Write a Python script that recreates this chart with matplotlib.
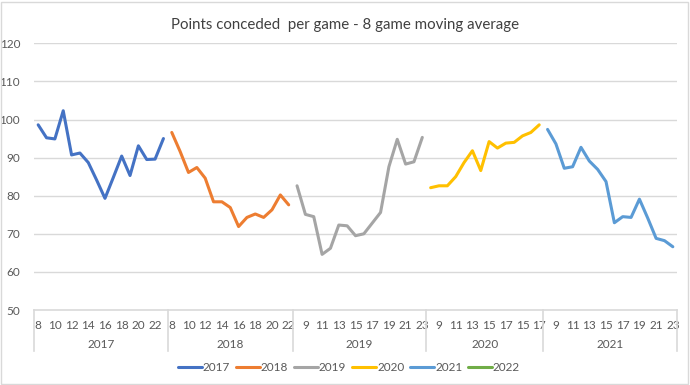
import matplotlib
matplotlib.use('Agg')
import matplotlib.pyplot as plt
import matplotlib.transforms as mtransforms
from matplotlib.patches import Rectangle
import numpy as np

plt.rcParams['font.family'] = ['Lato', 'DejaVu Sans']

years = ['2017', '2018', '2019', '2020', '2021', '2022']
colors = ['#4472C4', '#ED7D31', '#A5A5A5', '#FFC000', '#5B9BD5', '#70AD47']

rounds_2017 = list(range(8, 24))
rounds_2018 = list(range(8, 23))
rounds_2019 = list(range(8, 24))
rounds_2020 = list(range(8, 18)) + [14, 15, 16, 17]
rounds_2021 = list(range(8, 24))

pts_2017 = [98.6, 95.2, 94.9, 102.3, 90.7, 91.2, 88.7, 84.1, 79.3, 84.8,
            90.4, 85.3, 93.1, 89.5, 89.6, 95.0]
pts_2018 = [96.6, 91.6, 86.1, 87.4, 84.6, 78.4, 78.4, 76.9, 71.9, 74.3,
            75.2, 74.3, 76.3, 80.2, 77.6]
pts_2019 = [82.6, 75.1, 74.5, 64.6, 66.2, 72.3, 72.1, 69.5, 70.0, 72.8,
            75.6, 87.6, 94.8, 88.3, 88.9, 95.3]
pts_2020 = [82.1, 82.6, 82.6, 85.0, 88.7, 91.8, 86.6, 94.2, 92.5, 93.8,
            94.0, 95.7, 96.6, 98.6]
pts_2021 = [97.4, 93.6, 87.2, 87.6, 92.7, 89.1, 86.9, 83.7, 72.9, 74.5,
            74.3, 79.1, 74.1, 68.8, 68.2, 66.6]
pts_2022 = []

rounds = [rounds_2017, rounds_2018, rounds_2019, rounds_2020, rounds_2021, []]
values = [pts_2017, pts_2018, pts_2019, pts_2020, pts_2021, pts_2022]

fig = plt.figure(figsize=(6.9, 3.85), dpi=100)
ax = fig.add_axes([34 / 690, 1 - 310 / 385, 643 / 690, (310 - 43.3) / 385])

grid_c = '#D9D9D9'
text_c = '#595959'

start = 0
bounds = [0]
all_labels = []
for yr, c, rd, v in zip(years, colors, rounds, values):
    x = np.arange(start, start + len(v))
    ax.plot(x, v, color=c, lw=2.2, label=yr, solid_capstyle='round',
            solid_joinstyle='round')
    start += len(rd)
    if rd:
        bounds.append(start)
        all_labels += [str(r) for r in rd]

n = len(all_labels)
ax.set_xlim(-0.5, n - 0.5)
ax.set_ylim(50, 120)
ax.set_yticks(range(50, 121, 10))
for yv in range(60, 121, 10):
    ax.axhline(yv, color=grid_c, lw=1, zorder=0)
for s in ax.spines.values():
    s.set_visible(False)
ax.axhline(50, color=grid_c, lw=1.2, clip_on=False)

ax.set_xticks(range(0, n, 2))
ax.set_xticklabels(all_labels[::2])
ax.tick_params(axis='both', length=0, labelsize=8.5, colors=text_c)
ax.tick_params(axis='x', pad=7)
ax.tick_params(axis='y', pad=10)

trans = mtransforms.blended_transform_factory(ax.transData, ax.transAxes)
sep_y = -41 / 266.7
for b in bounds:
    ax.plot([b - 0.5, b - 0.5], [0, sep_y], color=grid_c, lw=1.2,
            transform=trans, clip_on=False)
yrs_used = [y for y, rd in zip(years, rounds) if rd]
for i, yr in enumerate(yrs_used):
    mid = (bounds[i] + bounds[i + 1]) / 2 - 0.5
    ax.text(mid, -34 / 266.7, yr, transform=trans, ha='center', va='center',
            fontsize=8.5, color=text_c)

fig.suptitle('Points conceded  per game - 8 game moving average', y=0.953,
             fontsize=10.8, color='#404040')

leg = ax.legend(loc='center', bbox_to_anchor=(0.49, -0.215), ncol=6,
                frameon=False, fontsize=8.5, handlelength=2.0,
                columnspacing=0.5, handletextpad=0.1)
for t in leg.get_texts():
    t.set_color(text_c)

fig.patches.append(Rectangle((0.002, 0.003), 0.995, 0.993, transform=fig.transFigure,
                             fill=False, edgecolor=grid_c, lw=1))

fig.savefig('out.png', dpi=100)
